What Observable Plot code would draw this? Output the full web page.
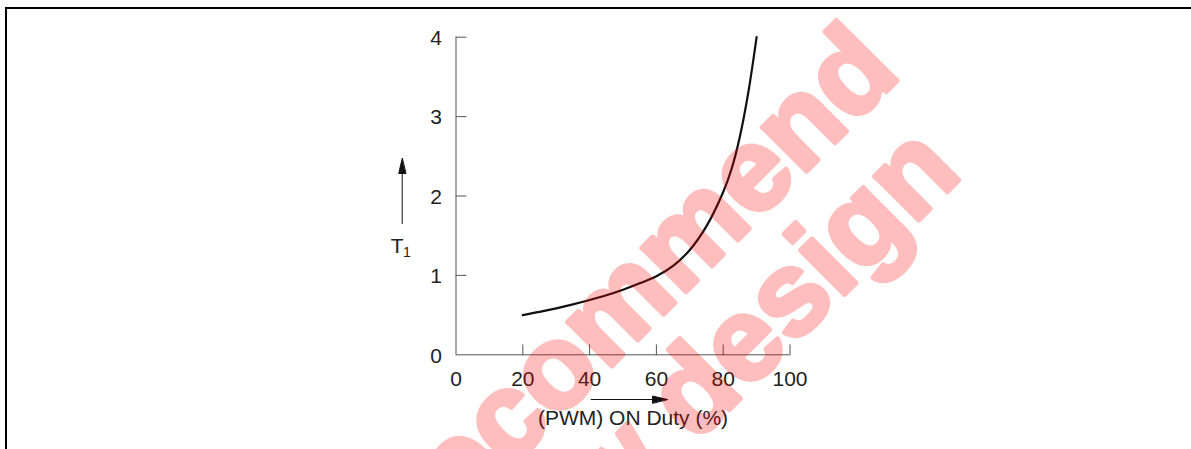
<!DOCTYPE html>
<html>
<head>
<meta charset="utf-8">
<script src="https://cdn.jsdelivr.net/npm/d3@7"></script>
<script src="https://cdn.jsdelivr.net/npm/@observablehq/plot@0.6"></script>
<style>
  html, body { margin: 0; padding: 0; background: #fff; }
  #wrap { position: relative; width: 1191px; height: 449px; overflow: hidden; }
  #border { position: absolute; left: 5px; top: 7px; width: 1200px; height: 460px;
            border-top: 2px solid #000; border-left: 2px solid #000; pointer-events: none; }
</style>
</head>
<body>
<div id="wrap"><div id="border"></div></div>
<script>
// ---- data ----
const duty = [20, 25, 30, 35, 40, 45, 50, 55, 60, 65, 70, 75, 80, 82.5, 85, 87.5, 90];
const t1   = [0.50, 0.54, 0.585, 0.635, 0.69, 0.75, 0.82, 0.90, 0.99, 1.12, 1.32, 1.62, 2.05, 2.34, 2.75, 3.30, 4.00];
const xTicks = [0, 20, 40, 60, 80, 100];
const yTicks = [0, 1, 2, 3, 4];
const xLabel = "(PWM) ON Duty (%)";
const yLabel = "T";
const yLabelSub = "1";
const watermark1 = "Not recommend";
const watermark2 = "for new design";

const points = duty.map((d, i) => ({duty: d, t1: t1[i]}));

const axisColor = "#555";
const textColor = "#222";
const fs = 21;

const lineShape = { draw(ctx, l) { ctx.moveTo(0, 0); ctx.lineTo(0, -l); } };
const arrowShape = { draw(ctx, l) {
  ctx.moveTo(0, 0); ctx.lineTo(0, -l + 12);
  ctx.moveTo(0, -l); ctx.lineTo(-3.5, -l + 15); ctx.lineTo(3.5, -l + 15); ctx.closePath();
} };

const chart = Plot.plot({
  width: 1191,
  height: 449,
  marginLeft: 455.5,
  marginRight: 401.5,
  marginTop: 36.7,
  marginBottom: 94.7,
  style: { fontFamily: "'Liberation Sans', Arial, Helvetica, sans-serif", fontSize: fs + "px", background: "transparent", overflow: "visible" },
  x: { domain: [0, 100], axis: null },
  y: { domain: [0, 4], axis: null },
  marks: [
    // axis lines
    Plot.ruleY([0], { x1: 0, x2: 100, stroke: axisColor, strokeWidth: 1 }),
    Plot.ruleX([0], { y1: 0, y2: 4, stroke: axisColor, strokeWidth: 1 }),
    // inward ticks
    Plot.vector(yTicks.filter(d => d > 0), { y: d => d, frameAnchor: "left", length: 10, rotate: 90, anchor: "start", shape: lineShape, stroke: axisColor, strokeWidth: 1 }),
    Plot.vector(xTicks.filter(d => d > 0), { x: d => d, frameAnchor: "bottom", length: 10, rotate: 0, anchor: "start", shape: lineShape, stroke: axisColor, strokeWidth: 1 }),
    // tick labels
    Plot.text(yTicks, { y: d => d, text: d => String(d), frameAnchor: "left", textAnchor: "end", dx: -14, dy: 1, fontSize: fs, fill: textColor }),
    Plot.text(xTicks, { x: d => d, text: d => String(d), frameAnchor: "bottom", lineAnchor: "top", dy: 16.5, fontSize: fs, fill: textColor }),
    // axis labels and arrows
    Plot.text([xLabel], { text: d => d, frameAnchor: "bottom", dx: 10, dy: 70.5, fontSize: fs, fill: textColor }),
    Plot.vector([xLabel], { frameAnchor: "bottom", dx: -31.8, dy: 44.7, length: 76.3, rotate: 90, anchor: "start", shape: arrowShape, stroke: "#111", fill: "#111", strokeWidth: 1 }),
    Plot.text([yLabel], { text: d => d, frameAnchor: "left", textAnchor: "start", dx: -65.2, dy: 49.8, fontSize: 21, fill: textColor }),
    Plot.text([yLabelSub], { text: d => d, frameAnchor: "left", textAnchor: "start", dx: -53, dy: 56.7, fontSize: 14, fill: textColor }),
    Plot.vector([yLabel], { frameAnchor: "left", dx: -53.8, dy: 27.5, length: 65, rotate: 0, anchor: "start", shape: arrowShape, stroke: "#111", fill: "#111", strokeWidth: 1 }),
    // the curve
    Plot.line(points, { x: "duty", y: "t1", curve: "catmull-rom", stroke: "#111", strokeWidth: 2.2 }),
    // watermark
    Plot.text([watermark1], { text: d => d, frameAnchor: "top-left", dx: 446.8, dy: 37.8, rotate: -45, textAnchor: "end", lineAnchor: "bottom", fontSize: 118, fontWeight: "bold", fill: "red", stroke: "red", strokeWidth: 5, opacity: 0.25 }),
    Plot.text([watermark2], { text: d => d, frameAnchor: "top-left", dx: 508, dy: 137.8, rotate: -45, textAnchor: "end", lineAnchor: "bottom", fontSize: 118, fontWeight: "bold", fill: "red", stroke: "red", strokeWidth: 5, opacity: 0.25 })
  ]
});
document.getElementById("wrap").prepend(chart);
</script>
</body>
</html>
